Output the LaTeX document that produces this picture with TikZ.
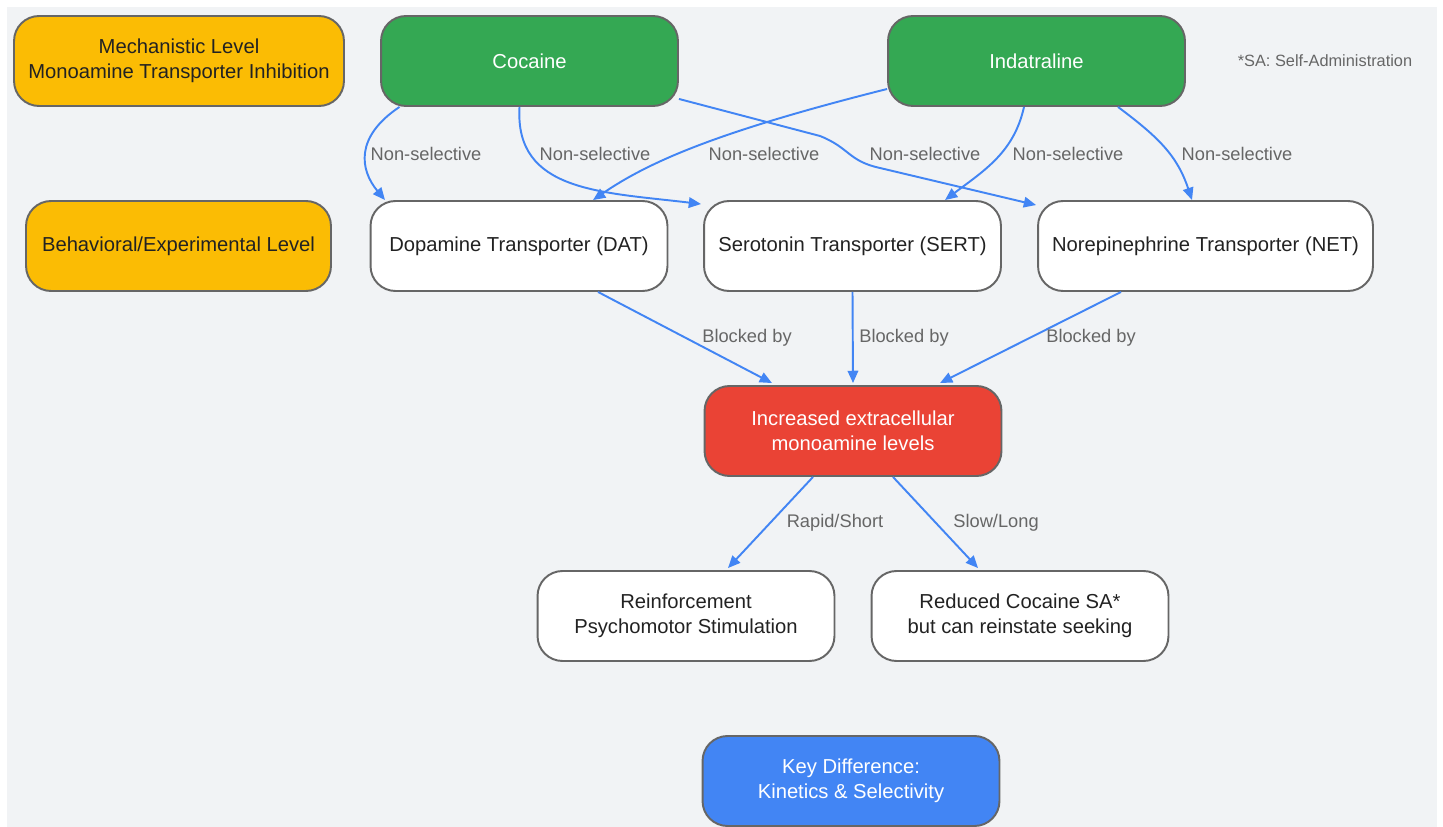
\documentclass[tikz,border=0pt]{standalone}
\usepackage{fontspec}
\setmainfont{Liberation Sans}
\usetikzlibrary{arrows.meta,calc}

\definecolor{bggray}{HTML}{F1F3F5}
\definecolor{rimgray}{HTML}{666666}
\definecolor{txtdark}{HTML}{222222}
\definecolor{lblgray}{HTML}{666666}
\definecolor{gyellow}{HTML}{FBBC04}
\definecolor{ggreen}{HTML}{34A853}
\definecolor{gred}{HTML}{EA4335}
\definecolor{gblue}{HTML}{4285F4}

\begin{document}
\begin{tikzpicture}[x=0.02cm,y=-0.02cm,
    box/.style={draw=rimgray,line width=1.1pt,rounded corners=0.5cm,minimum width=5.94cm,minimum height=1.8cm,align=center,text=txtdark,font=\fontsize{11.5}{14.2}\selectfont},
    level/.style={box,fill=gyellow},
    drug/.style={box,fill=ggreen,text=white},
    plain/.style={box,fill=white},
    lbl/.style={text=lblgray,font=\fontsize{10.4}{12}\selectfont},
    link/.style={draw=gblue,line width=1.1pt,-{Triangle[length=7pt,width=6pt]}}]
    \useasboundingbox (0,0) rectangle (1443,827);
    \fill[bggray] (7,7) rectangle (1437,827);

    \node[level,minimum width=6.6cm] (mech) at (179,61) {Mechanistic Level\\Monoamine Transporter Inhibition};
    \node[drug] (coc) at (529.5,61) {Cocaine};
    \node[drug] (ind) at (1036.5,61) {Indatraline};
    \node[text=lblgray,font=\fontsize{9.3}{11}\selectfont] (note) at (1325,61) {*SA: Self-Administration};

    \node[level,minimum width=6.1cm] (behav) at (178.5,246) {Behavioral/Experimental Level};
    \node[plain] (dat) at (519,246) {Dopamine Transporter (DAT)};
    \node[plain] (sert) at (852.5,246) {Serotonin Transporter (SERT)};
    \node[plain,minimum width=6.7cm] (net) at (1205.5,246) {Norepinephrine Transporter (NET)};

    \node[box,fill=gred,text=white] (incr) at (853,431) {Increased extracellular\\monoamine levels};

    \node[plain] (reinf) at (686,616) {Reinforcement\\Psychomotor Stimulation};
    \node[plain] (reduc) at (1020,616) {Reduced Cocaine SA*\\but can reinstate seeking};

    \node[box,fill=gblue,text=white] (key) at (851,781) {Key Difference:\\Kinetics \& Selectivity};

    % drugs to transporters
    \draw[link] ($(coc.south)+(-130,0)$) .. controls +(-45,30) and +(-25,-30) .. ($(dat.north)+(-134,0)$);
    \draw[link] ($(coc.south)+(-10,0)$) .. controls +(-5,85) and +(-100,-12) .. ($(sert.north west)+(-2,4)$);
    \draw[link] ($(coc.south east)+(0,-8)$) -- (820,136) .. controls (850,148) and (848,161) .. (880,168) -- ($(net.north west)+(-1,5)$);
    \draw[link] ($(ind.west)+(0,28)$) .. controls (720,131) and (650,161) .. ($(dat.north)+(74,0)$);
    \draw[link] ($(ind.south)+(-12.5,0)$) .. controls +(-10,45) and +(40,-30) .. ($(sert.north)+(92.5,0)$);
    \draw[link] ($(ind.south)+(81.5,0)$) .. controls +(40,30) and +(-15,-45) .. ($(net.north)+(-13.5,0)$);

    % transporters to levels
    \draw[link] ($(dat.south)+(79,0)$) -- ($(incr.north)+(-81,-2)$);
    \draw[link] (sert.south) -- ($(incr.north)+(0,-2)$);
    \draw[link] ($(net.south)+(-84.5,0)$) -- ($(incr.north)+(87,-2)$);

    % levels to outcomes
    \draw[link] ($(incr.south)+(-40,0)$) -- ($(reinf.north)+(42,-2)$);
    \draw[link] ($(incr.south)+(40,0)$) -- ($(reduc.north)+(-42,-2)$);

    % edge labels
    \foreach \x/\y/\t in {426/154/Non-selective,595/154/Non-selective,764/154/Non-selective,
        925/154/Non-selective,1068/154/Non-selective,1237/154/Non-selective,
        747/338/Blocked by,904/338/Blocked by,1091/338/Blocked by,
        835/523/{Rapid/Short},996/523/{Slow/Long}}
        \node[lbl] at (\x,\y) {\t};
\end{tikzpicture}
\end{document}
